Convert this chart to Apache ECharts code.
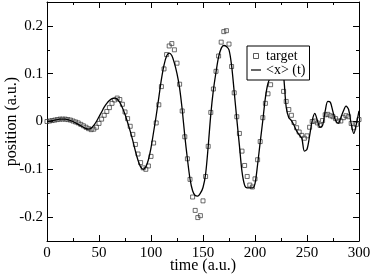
<!DOCTYPE html>
<html>
<head>
<meta charset="utf-8">
<script src="https://cdn.jsdelivr.net/npm/echarts@6/dist/echarts.min.js"></script>
<style>html,body{margin:0;padding:0;background:#fff}#c{width:374px;height:276px}</style>
</head>
<body>
<div id="c"></div>
<script>
const times = [0,2.5,5,7.5,10,12.5,15,17.5,20,22.5,25,27.5,30,32.5,35,37.5,40,42.5,45,47.5,50,52.5,55,57.5,60,62.5,65,67.5,70,72.5,75,77.5,80,82.5,85,87.5,90,92.5,95,97.5,100,102.5,105,107.5,110,112.5,115,117.5,120,122.5,125,127.5,130,132.5,135,137.5,140,142.5,145,147.5,150,152.5,155,157.5,160,162.5,165,167.5,170,172.5,175,177.5,180,182.5,185,187.5,190,192.5,195,197.5,200,202.5,205,207.5,210,212.5,215,217.5,220,222.5,225,227.5,230,232.5,235,237.5,240,242.5,245,247.5,250,252.5,255,257.5,260,262.5,265,267.5,270,272.5,275,277.5,280,282.5,285,287.5,290,292.5,295,297.5,300];
const target = [0.000,0.001,0.002,0.003,0.004,0.005,0.005,0.005,0.004,0.003,0.001,-0.001,-0.003,-0.006,-0.009,-0.012,-0.015,-0.017,-0.016,-0.012,-0.004,0.005,0.013,0.021,0.029,0.038,0.045,0.049,0.046,0.036,0.020,0.006,-0.010,-0.027,-0.048,-0.068,-0.086,-0.097,-0.100,-0.093,-0.073,-0.045,-0.003,0.035,0.073,0.110,0.140,0.158,0.163,0.150,0.122,0.078,0.022,-0.032,-0.078,-0.121,-0.158,-0.186,-0.201,-0.197,-0.166,-0.115,-0.052,0.019,0.068,0.105,0.137,0.166,0.188,0.190,0.162,0.115,0.060,0.010,-0.025,-0.062,-0.092,-0.115,-0.133,-0.137,-0.120,-0.080,-0.042,0.008,0.038,0.058,0.077,0.093,0.103,0.106,0.092,0.063,0.042,0.025,0.013,-0.002,-0.013,-0.022,-0.029,-0.035,-0.030,-0.012,0.000,0.001,-0.003,-0.008,0.002,0.014,0.015,0.012,0.010,0.006,0.001,0.001,0.008,0.012,0.010,-0.004,-0.013,-0.006,0.004];
const expectation = [0.000,0.001,0.002,0.003,0.004,0.005,0.005,0.005,0.004,0.002,0.000,-0.003,-0.006,-0.009,-0.012,-0.015,-0.016,-0.014,-0.008,0.000,0.010,0.020,0.030,0.038,0.044,0.048,0.049,0.047,0.040,0.029,0.015,-0.002,-0.020,-0.040,-0.062,-0.081,-0.095,-0.100,-0.095,-0.080,-0.055,-0.022,0.012,0.050,0.088,0.118,0.137,0.143,0.138,0.122,0.100,0.070,0.025,-0.030,-0.078,-0.120,-0.145,-0.155,-0.156,-0.150,-0.138,-0.110,-0.052,0.015,0.066,0.103,0.135,0.153,0.159,0.157,0.150,0.117,0.062,0.005,-0.050,-0.105,-0.133,-0.139,-0.139,-0.139,-0.130,-0.090,-0.043,0.002,0.050,0.080,0.092,0.097,0.110,0.125,0.122,0.095,0.030,0.008,0.002,-0.008,-0.020,-0.028,-0.035,-0.062,-0.058,-0.030,0.002,0.017,0.002,-0.012,-0.008,0.022,0.042,0.040,0.020,0.002,-0.004,0.008,0.022,0.032,0.025,-0.005,-0.025,-0.005,0.022];
const xTicks = [0,50,100,150,200,250,300];
const yMajorTicks = [-0.2,-0.1,0,0.1,0.2];
const targetName = 'target';
const lineName = '<x> (t)';

const FONT = 'Liberation Serif';
const black = '#000';
const chart = echarts.init(document.getElementById('c'), null, {renderer:'canvas'});

function yLabel(v){
  const r = Math.round(v*10);
  if (Math.abs(v*10 - r) > 1e-6) return '';
  return r === 0 ? '0' : (r/10).toFixed(1);
}
const axisLine = {show:true, onZero:false, lineStyle:{color:black, width:1}};
const xBase = {type:'value', min:0, max:300, interval:50, splitLine:{show:false},
  axisLine:axisLine, axisTick:{inside:true, length:6, lineStyle:{color:black}},
  minorTick:{show:true, splitNumber:2, length:3, lineStyle:{color:black}}};
const yShort = {type:'value', min:-0.25, max:0.25, interval:0.05, splitLine:{show:false},
  axisLine:axisLine, axisTick:{inside:true, length:3, lineStyle:{color:black}}};
const yLong = {type:'value', min:-0.25, max:0.25, splitLine:{show:false},
  axisLine:{show:false, onZero:false}, axisLabel:{show:false},
  axisTick:{inside:true, length:6, customValues:yMajorTicks, lineStyle:{color:black}}};

chart.setOption({
  animation:false,
  backgroundColor:'#fff',
  grid:{left:47, right:15, top:2, bottom:35, containLabel:false, outerBoundsMode:'none'},
  xAxis:[
    Object.assign({}, xBase, {position:'bottom',
      axisLabel:{show:true, color:black, fontFamily:FONT, fontSize:15, margin:5, customValues:xTicks},
      name:'time (a.u.)', nameLocation:'middle', nameGap:17, nameMoveOverlap:false,
      nameTextStyle:{color:black, fontFamily:FONT, fontSize:16}}),
    Object.assign({}, xBase, {position:'top', axisLabel:{show:false}})
  ],
  yAxis:[
    Object.assign({}, yShort, {position:'left',
      axisLabel:{show:true, color:black, fontFamily:FONT, fontSize:15, margin:4, formatter:yLabel},
      name:'position (a.u.)', nameLocation:'middle', nameGap:27, nameMoveOverlap:false,
      nameTextStyle:{color:black, fontFamily:FONT, fontSize:16}}),
    Object.assign({}, yLong, {position:'left'}),
    Object.assign({}, yShort, {position:'right', axisLabel:{show:false}}),
    Object.assign({}, yLong, {position:'right'})
  ],
  legend:{
    orient:'vertical', left:247, top:46, padding:[3,4,3,4], itemGap:0,
    itemWidth:10, itemHeight:5, borderColor:black, borderWidth:1, backgroundColor:'#fff',
    textStyle:{fontFamily:FONT, fontSize:14, color:black, lineHeight:11},
    data:[
      {name:targetName, icon:'path://M0,0H10V10H0Z', itemStyle:{color:'rgba(0,0,0,0)', borderColor:'#333', borderWidth:1}},
      {name:lineName, icon:'path://M0,4.4H10V5.6H0Z', itemStyle:{color:black, borderWidth:0}}
    ]
  },
  series:[
    {name:targetName, type:'scatter', xAxisIndex:0, yAxisIndex:0,
      symbol:'rect', symbolSize:4,
      itemStyle:{color:'rgba(0,0,0,0)', borderColor:'#333', borderWidth:0.9},
      data:times.map((t,i)=>[t, target[i]])},
    {name:lineName, type:'line', xAxisIndex:0, yAxisIndex:0,
      showSymbol:false, symbol:'none', smooth:0.3,
      lineStyle:{color:black, width:1.3}, itemStyle:{color:black},
      data:times.map((t,i)=>[t, expectation[i]])}
  ]
});
</script>
</body>
</html>
